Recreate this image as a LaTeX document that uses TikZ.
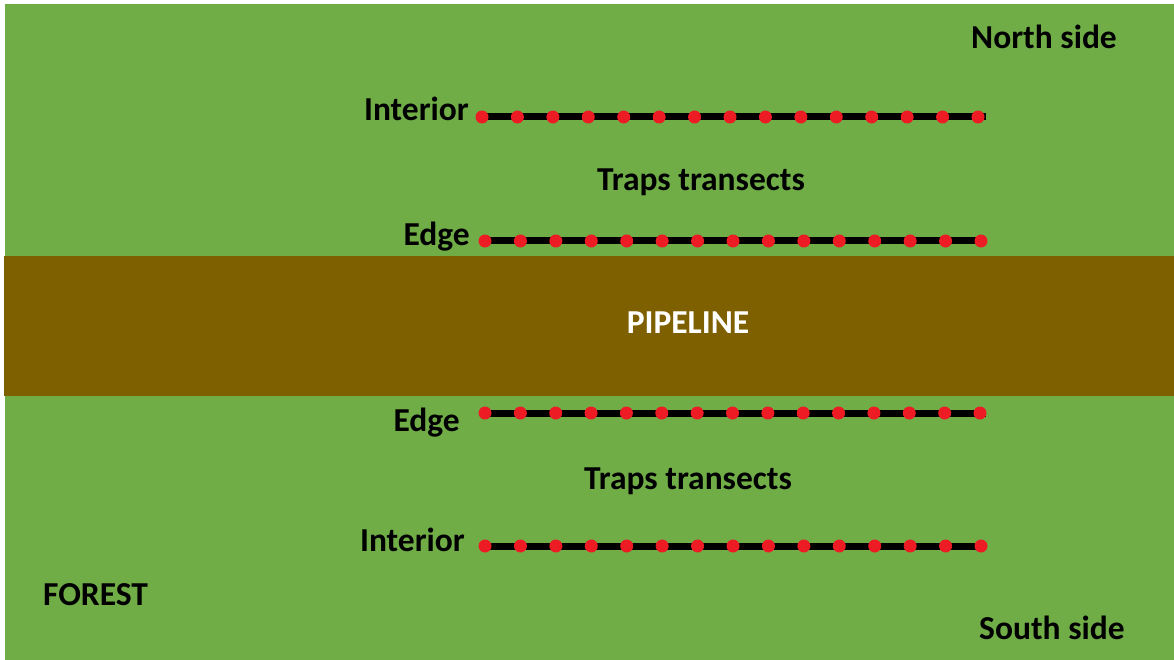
\documentclass[tikz,border=0pt]{standalone}
\usepackage{fontspec}
\setmainfont{Carlito}
\definecolor{forest}{RGB}{112,173,71}
\definecolor{pipe}{RGB}{127,96,0}
\definecolor{trapred}{RGB}{237,28,36}
\begin{document}
\begin{tikzpicture}[x=1pt,y=-1pt,
  lbl/.style={font=\fontsize{33.5}{38}\selectfont\bfseries, inner sep=0pt, text=black},
  transect/.style={line width=7pt, draw=black},
  trap/.style={circle, fill=trapred, minimum size=13pt, inner sep=0pt}]
\useasboundingbox (0,0) rectangle (1174,660);
\fill[white] (0,0) rectangle (1174,660);
\fill[forest] (5,4) rectangle (1174,660);
\fill[pipe] (4,256) rectangle (1174,396);
% labels
\node[lbl, anchor=base west] (north) at (971,49) {North side};
\node[lbl, anchor=base east] (int1) at (469,121) {Interior};
\node[lbl, anchor=base] (tt1) at (701,191) {Traps transects};
\node[lbl, anchor=base east] (edge1) at (470,245) {Edge};
\node[lbl, anchor=base, text=white] (pipeline) at (688,333) {PIPELINE};
\node[lbl, anchor=base east] (edge2) at (460,431) {Edge};
\node[lbl, anchor=base] (tt2) at (688,489) {Traps transects};
\node[lbl, anchor=base east] (int2) at (465,551) {Interior};
\node[lbl, anchor=base west] (forestlbl) at (43,605) {FOREST};
\node[lbl, anchor=base west] (south) at (979,639) {South side};
% transects
\foreach \name/\y/\xa/\xb in {a/117/482/978, b/241/485/981, c/413/485/980, d/546/485/981}{
  \coordinate (\name s) at (480,\y);
  \coordinate (\name e) at (986,\y);
  \draw[transect] (\name s) -- (\name e);
  \foreach \i in {0,...,14}{
    \node[trap] (\name\i) at ({\xa+(\xb-\xa)*\i/14},\y) {};
  }
}
\end{tikzpicture}
\end{document}
